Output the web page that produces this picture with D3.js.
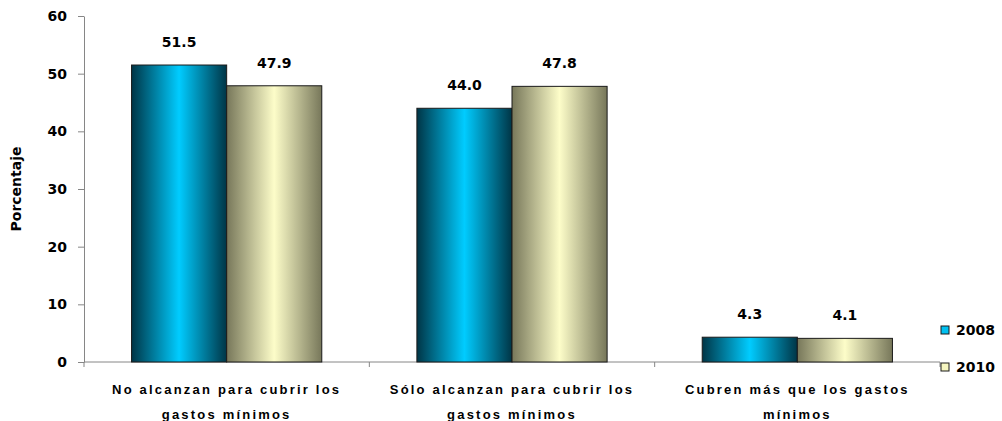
<!DOCTYPE html>
<html>
<head>
<meta charset="utf-8">
<script src="https://cdn.jsdelivr.net/npm/d3@7"></script>
<style>
  html, body { margin: 0; padding: 0; background: #fff; }
  svg { display: block; }
</style>
</head>
<body>
<svg id="chart" width="1002" height="421"></svg>
<script>
// Gasto cubierto por los ingresos del hogar (porcentaje)
const categories = [
  ["No alcanzan para cubrir los", "gastos mínimos"],
  ["Sólo alcanzan para cubrir los", "gastos mínimos"],
  ["Cubren más que los gastos", "mínimos"]
];
const seriesNames = ["2008", "2010"];
const values2008 = [51.5, 44.0, 4.3];
const values2010 = [47.9, 47.8, 4.1];
const yTicks = [0, 10, 20, 30, 40, 50, 60];

const svg = d3.select("#chart");
const margin = { left: 84, right: 62, top: 16, bottom: 59 };
const W = 1002, H = 421;
const plotW = W - margin.left - margin.right;
const plotH = H - margin.top - margin.bottom;

const g = svg.append("g").attr("transform", `translate(${margin.left},${margin.top})`);

const x0 = d3.scaleBand().domain(d3.range(categories.length)).range([0, plotW]).paddingInner(0).paddingOuter(0);
const x1 = d3.scaleBand().domain(seriesNames).range([x0.bandwidth() / 6, x0.bandwidth() * 5 / 6]);
const y = d3.scaleLinear().domain([0, 60]).range([plotH, 0]);

// horizontal gradients giving the cylinder-like shading
const defs = svg.append("defs");
function grad(id, edge, mid) {
  const lg = defs.append("linearGradient").attr("id", id).attr("x1", "0%").attr("x2", "100%").attr("y1", "0%").attr("y2", "0%");
  lg.append("stop").attr("offset", "0%").attr("stop-color", edge);
  lg.append("stop").attr("offset", "50%").attr("stop-color", mid);
  lg.append("stop").attr("offset", "100%").attr("stop-color", edge);
}
grad("g2008", "#003546", "#00ccff");
grad("g2010", "#77775a", "#fdfdc9");
const fills = { "2008": "url(#g2008)", "2010": "url(#g2010)" };
const legendFill = { "2008": "#00c0f0", "2010": "#f6f6c0" };

// y axis
const yAxis = d3.axisLeft(y).tickValues(yTicks).tickSize(6).tickPadding(11).tickSizeOuter(0);
const ya = g.append("g").call(yAxis);
ya.select(".domain").attr("stroke", "#868686");
ya.selectAll(".tick line").attr("stroke", "#868686");
ya.selectAll(".tick text")
  .attr("font-family", "DejaVu Sans")
  .attr("font-weight", "bold")
  .attr("font-size", "14px")
  .attr("fill", "#000");

// x axis: line with tick marks at category boundaries
const xa = g.append("g").attr("transform", `translate(0,${plotH})`);
xa.append("line").attr("x1", 0).attr("x2", plotW).attr("stroke", "#868686");
d3.range(categories.length + 1).forEach(i => {
  const xx = i < categories.length ? x0(i) : plotW;
  xa.append("line").attr("x1", xx).attr("x2", xx).attr("y1", 0).attr("y2", 5).attr("stroke", "#868686");
});

// bars
const data = categories.map((c, i) => ({ i, vals: [
  { key: "2008", v: values2008[i] },
  { key: "2010", v: values2010[i] }
] }));

const cat = g.selectAll(".cat").data(data).enter().append("g")
  .attr("transform", d => `translate(${x0(d.i)},0)`);

cat.selectAll("rect").data(d => d.vals).enter().append("rect")
  .attr("x", d => x1(d.key))
  .attr("width", x1.bandwidth())
  .attr("y", d => y(d.v))
  .attr("height", d => plotH - y(d.v))
  .attr("fill", d => fills[d.key])
  .attr("stroke", "#1a1a1a")
  .attr("stroke-width", 1);

cat.selectAll("text.val").data(d => d.vals).enter().append("text")
  .attr("class", "val")
  .attr("x", d => x1(d.key) + x1.bandwidth() / 2)
  .attr("y", d => y(d.v) - 18)
  .attr("text-anchor", "middle")
  .attr("font-family", "DejaVu Sans")
  .attr("font-weight", "bold")
  .attr("font-size", "14px")
  .attr("fill", "#000")
  .text(d => d.v.toFixed(1));

// category labels
cat.append("text")
  .attr("text-anchor", "middle")
  .attr("font-family", "Liberation Sans")
  .attr("font-weight", "bold")
  .attr("font-size", "13px")
  .attr("letter-spacing", "2.2px")
  .attr("fill", "#000")
  .selectAll("tspan").data(d => categories[d.i]).enter().append("tspan")
  .attr("x", x0.bandwidth() / 2)
  .attr("y", (d, k) => plotH + 32 + k * 25)
  .text(d => d);

// y axis title
svg.append("text")
  .attr("transform", `translate(21,${margin.top + plotH / 2}) rotate(-90)`)
  .attr("text-anchor", "middle")
  .attr("font-family", "DejaVu Sans")
  .attr("font-weight", "bold")
  .attr("font-size", "14px")
  .attr("fill", "#000")
  .text("Porcentaje");

// legend
const legend = svg.append("g").attr("transform", "translate(941,326)");
seriesNames.forEach((s, k) => {
  const row = legend.append("g").attr("transform", `translate(0,${k * 37})`);
  row.append("rect").attr("width", 8).attr("height", 8)
    .attr("fill", legendFill[s]).attr("stroke", "#1a1a1a").attr("stroke-width", 1);
  row.append("text").attr("x", 15).attr("y", 9)
    .attr("font-family", "DejaVu Sans")
    .attr("font-weight", "bold")
    .attr("font-size", "14px")
    .attr("fill", "#000")
    .text(s);
});
</script>
</body>
</html>
